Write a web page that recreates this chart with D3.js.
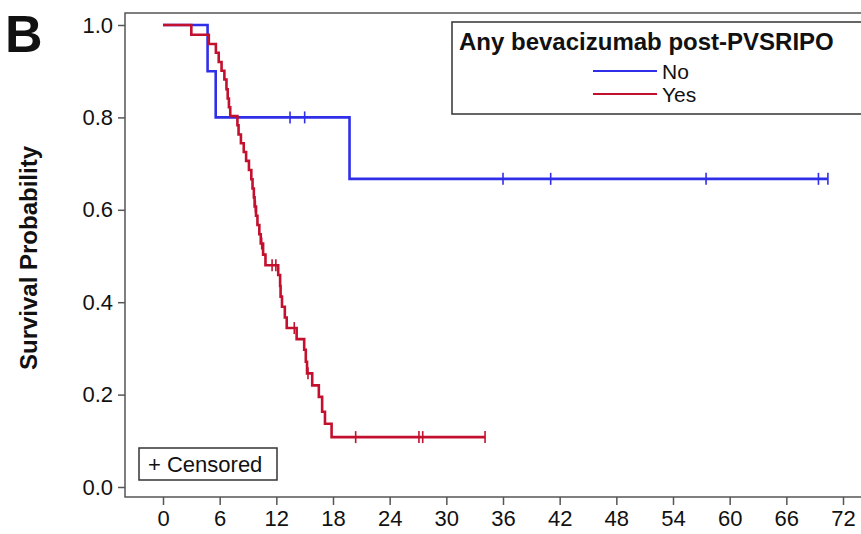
<!DOCTYPE html>
<html>
<head>
<meta charset="utf-8">
<script src="https://cdn.jsdelivr.net/npm/d3@7"></script>
<style>
  html, body { margin: 0; padding: 0; background: #fff; }
  svg { display: block; font-family: "Liberation Sans", Arial, sans-serif; }
</style>
</head>
<body>
<svg id="chart" width="861" height="534"></svg>
<script>
// Kaplan-Meier steps: event time (months) and survival just after it
const noTimes = [4.72, 5.58, 19.75];
const noSurv = [0.9, 0.8, 0.667];
const noCensored = [13.45, 15.0, 36.0, 41.05, 57.5, 69.4, 70.4];
const noEnd = 70.4;

const yesTimes = [3.0, 4.85, 5.6, 5.9, 6.2, 6.5, 6.72, 6.85, 6.98, 7.12,
  7.88, 8.0, 8.25, 8.55, 8.8, 9.1, 9.35, 9.48, 9.62, 9.7,
  9.85, 10.0, 10.2, 10.35, 10.6, 10.85, 12.2, 12.4, 12.45, 12.6,
  12.9, 13.1, 14.15, 14.95, 15.12, 15.25, 15.8, 16.5, 16.85, 17.15, 17.85];
const yesSurv = [0.979, 0.959, 0.940, 0.920, 0.901, 0.882, 0.861, 0.841, 0.822, 0.803,
  0.783, 0.763, 0.744, 0.725, 0.706, 0.686, 0.666, 0.646, 0.627, 0.607,
  0.587, 0.567, 0.547, 0.527, 0.503, 0.480, 0.459, 0.435, 0.412, 0.390,
  0.367, 0.344, 0.320, 0.297, 0.271, 0.246, 0.220, 0.195, 0.163, 0.137, 0.108];
const yesCensored = [9.78, 10.45, 11.55, 11.95, 13.9, 15.35, 20.4, 27.1, 27.5, 34.1];
const yesEnd = 34.1;

const xTicks = [0, 6, 12, 18, 24, 30, 36, 42, 48, 54, 60, 66, 72];
const yTicks = [0.0, 0.2, 0.4, 0.6, 0.8, 1.0];
const groupTitle = "Any bevacizumab post-PVSRIPO";
const groupNames = ["No", "Yes"];
const groupColors = ["#2f2fea", "#c3102e"];

const svg = d3.select("#chart");
const x = d3.scaleLinear().domain([0, 72]).range([163, 843]);
const y = d3.scaleLinear().domain([0, 1]).range([487, 25]);

const frame = { left: 125, top: 13, right: 866, bottom: 497 };

// plot frame
svg.append("rect")
  .attr("x", frame.left).attr("y", frame.top)
  .attr("width", frame.right - frame.left).attr("height", frame.bottom - frame.top)
  .attr("fill", "#fff").attr("stroke", "#555").attr("stroke-width", 1.5);

// y axis
const yAxis = svg.append("g")
  .attr("transform", `translate(${frame.left},0)`)
  .call(d3.axisLeft(y).tickValues(yTicks).tickFormat(d3.format(".1f")).tickSize(7).tickPadding(5));
yAxis.select(".domain").remove();
yAxis.selectAll("line").attr("stroke", "#555").attr("stroke-width", 1.5);
yAxis.selectAll("text").attr("font-size", 22).attr("fill", "#111")
  .attr("font-family", "Liberation Sans, Arial, sans-serif");

// x axis
const xAxis = svg.append("g")
  .attr("transform", `translate(0,${frame.bottom})`)
  .call(d3.axisBottom(x).tickValues(xTicks).tickSize(8).tickPadding(5));
xAxis.select(".domain").remove();
xAxis.selectAll("line").attr("stroke", "#555").attr("stroke-width", 1.5);
xAxis.selectAll("text").attr("font-size", 22).attr("fill", "#111")
  .attr("font-family", "Liberation Sans, Arial, sans-serif");

// y axis title
svg.append("text")
  .attr("transform", "translate(37,258) rotate(-90)")
  .attr("text-anchor", "middle")
  .attr("font-size", 24).attr("font-weight", "bold").attr("fill", "#111")
  .text("Survival Probability");

// panel letter
svg.append("text")
  .attr("x", 5).attr("y", 52)
  .attr("font-size", 52).attr("font-weight", "bold").attr("fill", "#111")
  .text("B");

// survival curves
function stepPoints(times, surv, end) {
  const pts = [[0, 1]];
  times.forEach((t, i) => pts.push([t, surv[i]]));
  pts.push([end, surv[surv.length - 1]]);
  return pts;
}
function survAt(times, surv, t) {
  let s = 1;
  times.forEach((tt, i) => { if (tt <= t) s = surv[i]; });
  return s;
}
const line = d3.line()
  .x(d => x(d[0])).y(d => y(d[1]))
  .curve(d3.curveStepAfter);

const groups = [
  { times: noTimes, surv: noSurv, cens: noCensored, end: noEnd, color: groupColors[0] },
  { times: yesTimes, surv: yesSurv, cens: yesCensored, end: yesEnd, color: groupColors[1] }
];

groups.forEach(g => {
  svg.append("path")
    .datum(stepPoints(g.times, g.surv, g.end))
    .attr("d", line)
    .attr("fill", "none")
    .attr("stroke", g.color)
    .attr("stroke-width", 2.6);
  svg.append("g").selectAll("line")
    .data(g.cens)
    .join("line")
    .attr("x1", d => x(d)).attr("x2", d => x(d))
    .attr("y1", d => y(survAt(g.times, g.surv, d)) - 6)
    .attr("y2", d => y(survAt(g.times, g.surv, d)) + 6)
    .attr("stroke", g.color).attr("stroke-width", 1.6);
});

// group legend
const lg = svg.append("g");
lg.append("rect")
  .attr("x", 452).attr("y", 22).attr("width", 420).attr("height", 92)
  .attr("fill", "#fff").attr("stroke", "#333").attr("stroke-width", 1.5);
lg.append("text")
  .attr("x", 459).attr("y", 50)
  .attr("font-size", 24).attr("font-weight", "bold").attr("fill", "#111")
  .text(groupTitle);
groupNames.forEach((name, i) => {
  const yy = 71 + i * 23;
  lg.append("line")
    .attr("x1", 593).attr("x2", 657).attr("y1", yy).attr("y2", yy)
    .attr("stroke", groupColors[i]).attr("stroke-width", 2);
  lg.append("text")
    .attr("x", 662).attr("y", yy + 8)
    .attr("font-size", 21).attr("fill", "#111")
    .text(name);
});

// censoring legend
const cg = svg.append("g");
cg.append("rect")
  .attr("x", 139).attr("y", 448).attr("width", 138).attr("height", 32)
  .attr("fill", "#fff").attr("stroke", "#333").attr("stroke-width", 1.5);
cg.append("text")
  .attr("x", 148).attr("y", 472)
  .attr("font-size", 22).attr("fill", "#111")
  .text("+ Censored");
</script>
</body>
</html>
